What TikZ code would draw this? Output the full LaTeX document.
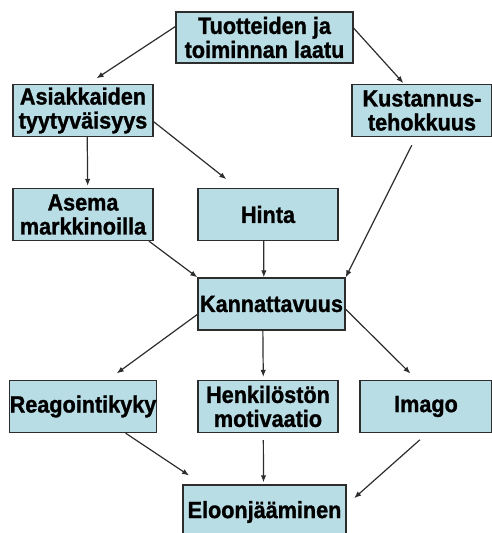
\documentclass[tikz,border=0pt]{standalone}
\usepackage{fontspec}
\setmainfont[FakeStretch=0.92,BoldFeatures={FakeBold=1.2}]{Liberation Sans}
\usepackage{tikz}
\usetikzlibrary{arrows.meta}

\definecolor{boxfill}{RGB}{185,221,228}
\definecolor{boxline}{RGB}{45,45,45}

\begin{document}
\begin{tikzpicture}[x=1pt,y=-1pt,auto=left,
		every node/.style={rectangle,draw=boxline,line width=1.3pt,fill=boxfill,inner sep=0pt,
			minimum width=140pt,minimum height=52pt,align=center,
			font=\fontsize{23.5}{24}\selectfont\bfseries}]
							\useasboundingbox (0,0) rectangle (492,533);
							\clip (0,0) rectangle (492,533);

							\node[minimum width=177pt,minimum height=51pt] (laatu) at (264.5,37.5) {Tuotteiden ja\\toiminnan laatu};
							\node (asiak) at (83,110.5) {Asiakkaiden\\tyytyväisyys};
							\node (kust) at (422,110.5) {Kustannus-\\tehokkuus};
							\node (asema) at (83,214.5) {Asema\\markkinoilla};
							\node (hinta) at (268,214.5) {Hinta};
							\node[minimum width=147pt] (kann) at (271.5,304) {Kannattavuus};
							\node (reag) at (83,406.5) {Reagointikyky};
							\node (henk) at (268,406.5) {Henkilöstön\\motivaatio};
							\node[minimum width=132pt] (imago) at (426,406.5) {Imago};
							\node[minimum width=163pt,minimum height=54pt] (eloon) at (264.5,512) {Eloonjääminen};

							\foreach \from/\to/\sa/\sb in {laatu.173/asiak.79/0/10,laatu.6/kust.124/0/1,
								asiak.279/asema.80/0/2,asiak.351/hinta.139/0/14,
								kust.257/kann.north east/9/0,asema.338/kann.north west/0/0,hinta.261/kann.106/0/0,
								kann.188/reag.47/0/11,kann.252/henk.100/0/3,kann.356/imago.109/0/9,
								reag.328/eloon.156/0/16,henk.260/eloon.92/7/2,imago.273/eloon.5/10/10}
								\draw[-{Latex[length=7pt,width=5.5pt]},line width=1.2pt,draw=boxline,
									shorten <=\sa pt,shorten >=\sb pt] (\from) -- (\to);

						\end{tikzpicture}
\end{document}
